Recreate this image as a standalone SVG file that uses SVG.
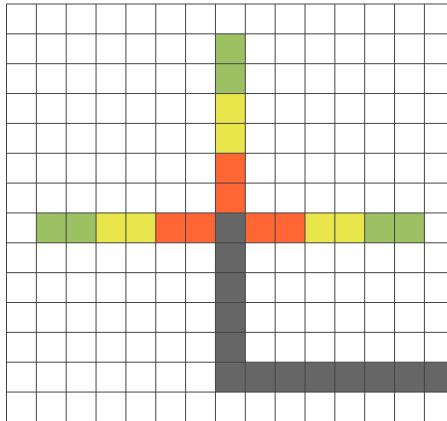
<svg xmlns="http://www.w3.org/2000/svg" width="447" height="421" viewBox="0 0 447 421">
<style>
.g{fill:#9bc162}.y{fill:#e8e64a}.o{fill:#ff6633}.k{fill:#666666}
.grid line{stroke:#444;stroke-width:1;vector-effect:non-scaling-stroke}
</style>
<rect width="447" height="421" fill="#ffffff"/>
<g transform="translate(6.5,4) scale(0.995)">
<g id="arm-up">
<rect class="g" x="210" y="30" width="30" height="60"/>
<rect class="y" x="210" y="90" width="30" height="60"/>
<rect class="o" x="210" y="150" width="30" height="60"/>
</g>
<g id="arm-left">
<rect class="g" x="30" y="210" width="60" height="30"/>
<rect class="y" x="90" y="210" width="60" height="30"/>
<rect class="o" x="150" y="210" width="60" height="30"/>
</g>
<g id="arm-right">
<rect class="o" x="240" y="210" width="60" height="30"/>
<rect class="y" x="300" y="210" width="60" height="30"/>
<rect class="g" x="360" y="210" width="60" height="30"/>
</g>
<g id="path-gray">
<rect class="k" x="210" y="210" width="30" height="180"/>
<rect class="k" x="240" y="360" width="220" height="30"/>
</g>
<g class="grid" id="grid">
<line x1="0" y1="0" x2="0" y2="425"/>
<line x1="30" y1="0" x2="30" y2="425"/>
<line x1="60" y1="0" x2="60" y2="425"/>
<line x1="90" y1="0" x2="90" y2="425"/>
<line x1="120" y1="0" x2="120" y2="425"/>
<line x1="150" y1="0" x2="150" y2="425"/>
<line x1="180" y1="0" x2="180" y2="425"/>
<line x1="210" y1="0" x2="210" y2="425"/>
<line x1="240" y1="0" x2="240" y2="425"/>
<line x1="270" y1="0" x2="270" y2="425"/>
<line x1="300" y1="0" x2="300" y2="425"/>
<line x1="330" y1="0" x2="330" y2="425"/>
<line x1="360" y1="0" x2="360" y2="425"/>
<line x1="390" y1="0" x2="390" y2="425"/>
<line x1="420" y1="0" x2="420" y2="425"/>
<line x1="0" y1="0" x2="450" y2="0"/>
<line x1="0" y1="30" x2="450" y2="30"/>
<line x1="0" y1="60" x2="450" y2="60"/>
<line x1="0" y1="90" x2="450" y2="90"/>
<line x1="0" y1="120" x2="450" y2="120"/>
<line x1="0" y1="150" x2="450" y2="150"/>
<line x1="0" y1="180" x2="450" y2="180"/>
<line x1="0" y1="210" x2="450" y2="210"/>
<line x1="0" y1="240" x2="450" y2="240"/>
<line x1="0" y1="270" x2="450" y2="270"/>
<line x1="0" y1="300" x2="450" y2="300"/>
<line x1="0" y1="330" x2="450" y2="330"/>
<line x1="0" y1="360" x2="450" y2="360"/>
<line x1="0" y1="390" x2="450" y2="390"/>
</g>
</g>
</svg>
